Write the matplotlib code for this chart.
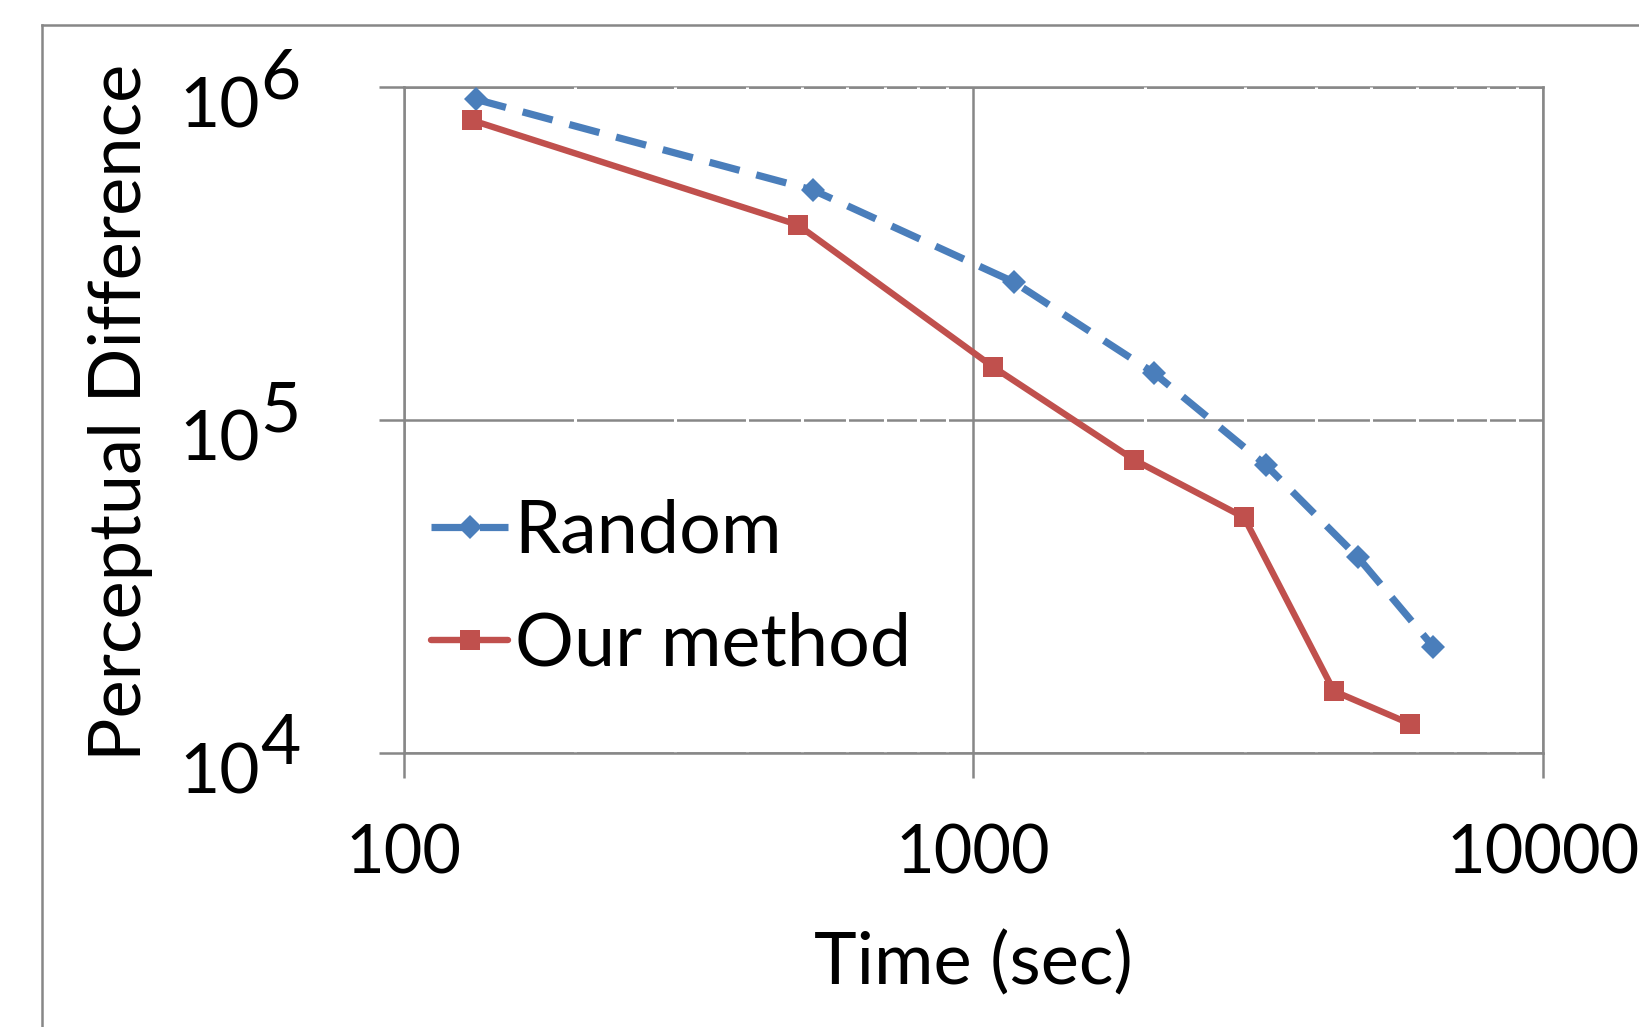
import matplotlib
matplotlib.use("Agg")
import matplotlib.pyplot as plt
from matplotlib.lines import Line2D
from matplotlib.transforms import offset_copy

# ---- data ----
random_time = [134, 524, 1179, 2077, 3265, 4734, 6417]
random_diff = [917e3, 489e3, 259e3, 138e3, 73e3, 38.6e3, 20.8e3]
ours_time = [132, 492, 1084, 1917, 2987, 4296, 5848]
ours_diff = [793e3, 385e3, 144e3, 75.7e3, 50.9e3, 15.3e3, 12.2e3]
series_names = ["Random", "Our method"]
x_ticks = [100, 1000, 10000]
x_tick_labels = ["100", "1000", "10000"]
y_ticks = [1e4, 1e5, 1e6]
y_tick_base = ["10", "10", "10"]
y_exponents = ["4", "5", "6"]
x_label = "Time (sec)"
y_label = "Perceptual Difference"

FONT = "Lato"
plt.rcParams["font.family"] = [FONT, "DejaVu Sans"]

GRAY = "#878787"
BLUE = "#4A7EBB"
RED = "#C0504D"

W, H = 1639, 1027
fig = plt.figure(figsize=(W / 100, H / 100), dpi=100)
L, R, T, B = 403.5, 1543, 86.8, 752.6
ax = fig.add_axes([L / W, 1 - B / H, (R - L) / W, (B - T) / H])

ax.set_xscale("log")
ax.set_yscale("log")
ax.set_xlim(100, 10000)
ax.set_ylim(1e4, 1e6)

# grid
ax.set_axisbelow(True)
ax.grid(True, which="major", axis="both", color=GRAY, linewidth=1.8)
ax.set_xticks(x_ticks)
minor_locs = [v for v in ax.xaxis.get_minorticklocs() if 100 < v < 10000]
ax.vlines(minor_locs, 0, 1, transform=ax.get_xaxis_transform(),
          colors="white", linewidth=2.2, zorder=0.8)

for side in ["left", "right", "bottom", "top"]:
    ax.spines[side].set_color(GRAY)
    ax.spines[side].set_linewidth(1.8)
ax.spines["top"].set_zorder(0.6)

ax.plot(random_time, random_diff, color=BLUE, linewidth=5.2,
        linestyle=(0, (4.3, 2.4)), dash_capstyle="butt",
        marker="D", markersize=12.5, markeredgewidth=0,
        label=series_names[0], zorder=3)
ax.plot(ours_time, ours_diff, color=RED, linewidth=4.6,
        solid_capstyle="round",
        marker="s", markersize=14.5, markeredgewidth=0,
        label=series_names[1], zorder=3)

ax.set_xticks(x_ticks)
ax.set_xticklabels(x_tick_labels)
ax.set_yticks(y_ticks)
ax.minorticks_off()
ax.tick_params(axis="both", which="major", length=18, width=1.8, color=GRAY)
ax.tick_params(axis="x", pad=33, labelsize=48)
ax.tick_params(axis="y", labelleft=False)

# y tick labels: "10" with a large superscript exponent
ytr = ax.get_yaxis_transform()
for yv, base, ex in zip(y_ticks, y_tick_base, y_exponents):
    ax.text(0, yv, base, fontsize=50, ha="right", va="baseline",
            transform=offset_copy(ytr, fig=fig, x=-144, y=-41, units="dots"))
    ax.text(0, yv, ex, fontsize=50, ha="left", va="baseline",
            transform=offset_copy(ytr, fig=fig, x=-143, y=-11.5, units="dots"))

ax.set_xlabel(x_label, fontsize=52)
ax.set_ylabel(y_label, fontsize=52)
ax.xaxis.label.set_va("center")
ax.yaxis.label.set_va("center")
ax.xaxis.set_label_coords(0.5, -0.316)
ax.yaxis.set_label_coords(-0.2486, 0.511)

leg = ax.legend(loc="center left", bbox_to_anchor=(-0.0013, 0.246), frameon=False,
                fontsize=53, handlelength=1.04, handletextpad=0.09,
                labelspacing=0.62, borderaxespad=0)

# outer frame (cropped chart border)
fx = 41.8 / W
fy = 1 - 25 / H
fig.add_artist(Line2D([fx, fx], [0, fy], color=GRAY, linewidth=1.8,
                      transform=fig.transFigure))
fig.add_artist(Line2D([fx, 1], [fy, fy], color=GRAY, linewidth=1.8,
                      transform=fig.transFigure))

fig.savefig("out.png", dpi=100)
